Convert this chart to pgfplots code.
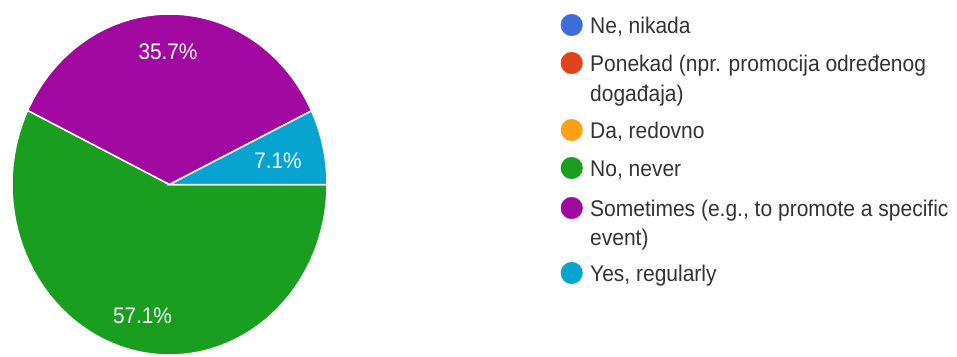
\documentclass[border=0pt]{standalone}
\usepackage{pgfplots}
\pgfplotsset{compat=1.18}
\usepackage{fontspec}
\setmainfont{Liberation Sans}
\usepackage{graphicx}
\definecolor{cblue}{RGB}{59,110,218}
\definecolor{cred}{RGB}{226,67,28}
\definecolor{corange}{RGB}{255,160,18}
\definecolor{cgreen}{RGB}{25,158,31}
\definecolor{cpurple}{RGB}{160,8,160}
\definecolor{ccyan}{RGB}{8,164,208}
\definecolor{ctext}{RGB}{51,51,51}
\newcommand{\vs}[1]{\scalebox{1}[1.08]{#1}}
% data (percent)
\def\vNo{57.1}
\def\vSome{35.7}
\def\vYes{7.1}
\begin{document}
\begin{tikzpicture}
\pgfmathsetmacro{\tot}{\vNo+\vSome+\vYes}
\pgfmathsetmacro{\aA}{\vNo/\tot*360}
\pgfmathsetmacro{\aB}{\aA+\vSome/\tot*360}
\def\cx{169.5}\def\cy{184.5}\def\rx{157.5}\def\ry{170.5}
\begin{axis}[
  at={(0,0)}, anchor=south west,
  scale only axis, width=957pt, height=356pt,
  xmin=0, xmax=957, ymin=0, ymax=356, y dir=reverse,
  hide axis, clip=false,
]
\addplot[fill=cgreen, draw=white, line width=1.5pt, domain=0:\aA, samples=150, variable=\t]
  ({\cx+\rx*cos(t)}, {\cy+\ry*sin(t)}) -- (axis cs:\cx,\cy) -- cycle;
\addplot[fill=cpurple, draw=white, line width=1.5pt, domain=\aA:\aB, samples=100, variable=\t]
  ({\cx+\rx*cos(t)}, {\cy+\ry*sin(t)}) -- (axis cs:\cx,\cy) -- cycle;
\addplot[fill=ccyan, draw=white, line width=1.5pt, domain=\aB:360, samples=30, variable=\t]
  ({\cx+\rx*cos(t)}, {\cy+\ry*sin(t)}) -- (axis cs:\cx,\cy) -- cycle;
% slice labels
\node[text=white, inner sep=0pt, font=\fontsize{20.8}{24}\selectfont] at (axis cs:168,52) {\vs{35.7\%}};
\node[text=white, inner sep=0pt, font=\fontsize{20.8}{24}\selectfont] at (axis cs:278,161) {\vs{7.1\%}};
\node[text=white, inner sep=0pt, font=\fontsize{20.8}{24}\selectfont] at (axis cs:142.5,316) {\vs{57.1\%}};
% legend markers
\addplot[only marks, mark=*, mark size=10.8pt, color=cblue] coordinates {(571.7,25)};
\addplot[only marks, mark=*, mark size=10.8pt, color=cred] coordinates {(571.7,63)};
\addplot[only marks, mark=*, mark size=10.8pt, color=corange] coordinates {(571.7,130)};
\addplot[only marks, mark=*, mark size=10.8pt, color=cgreen] coordinates {(571.7,168)};
\addplot[only marks, mark=*, mark size=10.8pt, color=cpurple] coordinates {(571.7,208)};
\addplot[only marks, mark=*, mark size=10.8pt, color=ccyan] coordinates {(571.7,273)};
% legend text
\begin{scope}[every node/.style={anchor=base west, text=ctext, inner sep=0pt, font=\fontsize{21}{25}\selectfont}]
\node at (axis cs:590,33) {\vs{Ne, nikada}};
\node at (axis cs:590,71) {\vs{Ponekad (npr. promocija određenog}};
\node at (axis cs:590,101) {\vs{događaja)}};
\node at (axis cs:590,138) {\vs{Da, redovno}};
\node at (axis cs:590,176) {\vs{No, never}};
\node at (axis cs:590,216) {\vs{Sometimes (e.g., to promote a specific}};
\node at (axis cs:590,245) {\vs{event)}};
\node at (axis cs:590,281) {\vs{Yes, regularly}};
\end{scope}
\end{axis}
\pgfresetboundingbox
\path (current axis.south west) rectangle (current axis.north east);
\end{tikzpicture}
\end{document}
